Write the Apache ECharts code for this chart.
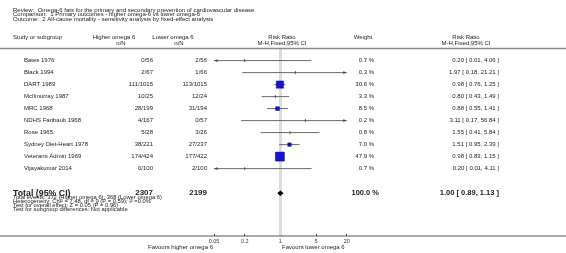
<!DOCTYPE html>
<html>
<head>
<meta charset="utf-8">
<script src="https://cdn.jsdelivr.net/npm/echarts@6/dist/echarts.min.js"></script>
<style>
  html, body { margin: 0; padding: 0; background: #fff; }
  #main { width: 566px; height: 253px; }
</style>
</head>
<body>
<div id="main"></div>
<script>
// study rows
var studies = ['Bates 1976', 'Black 1994', 'DART 1989', 'McIlmurray 1987', 'MRC 1968',
  'NDHS Faribault 1968', 'Rose 1965', 'Sydney Diet-Heart 1978', 'Veterans Admin 1969', 'Vijayakumar 2014'];
var higherEvents = [0, 2, 111, 10, 28, 4, 5, 38, 174, 0];
var higherTotal  = [56, 67, 1015, 25, 199, 167, 28, 221, 424, 100];
var lowerEvents  = [2, 1, 113, 12, 31, 0, 3, 27, 177, 2];
var lowerTotal   = [56, 66, 1015, 24, 194, 57, 26, 237, 422, 100];
var weights = [0.7, 0.3, 30.6, 3.3, 8.5, 0.2, 0.8, 7.0, 47.9, 0.7];
var rr   = [0.20, 1.97, 0.98, 0.80, 0.88, 3.11, 1.55, 1.51, 0.98, 0.20];
var rrLo = [0.01, 0.18, 0.76, 0.43, 0.55, 0.17, 0.41, 0.95, 0.83, 0.01];
var rrHi = [4.06, 21.21, 1.25, 1.49, 1.41, 56.84, 5.84, 2.39, 1.15, 4.11];

// pooled
var totalHigherN = 2307;
var totalLowerN = 2199;
var totalWeight = 100.0;
var totalRR = [1.00, 0.89, 1.13];

var tickValues = [0.05, 0.2, 1, 5, 20];
var axisMin = 0.05, axisMax = 20;

var FONT = '"Liberation Sans", Arial, sans-serif';
var TXT = '#222';

function lg(v) { return Math.log10(v); }
function fmt(v) { return v.toFixed(2); }

var rowY = studies.map(function (s, i) { return i + 1.05; });
var totalY = 12.1;

var studyData = studies.map(function (s, i) {
  return [lg(rr[i]), rowY[i], lg(rrLo[i]), lg(rrHi[i]), weights[i]];
});
var textData = studies.map(function (s, i) { return [0, rowY[i], i]; });

var dom = document.getElementById('main');
var myChart = echarts.init(dom, null, { renderer: 'canvas' });

function t(text, x, y, size, align, bold) {
  return {
    type: 'text', x: x, y: y, silent: true,
    style: {
      text: text, fill: TXT, align: align || 'left', verticalAlign: 'middle',
      font: (bold ? 'bold ' : '') + size + 'px ' + FONT
    }
  };
}

var option = {
  animation: false,
  grid: { left: 214, right: 219.3, top: 48, bottom: 17 },
  xAxis: {
    type: 'value',
    position: 'bottom',
    min: lg(axisMin), max: lg(axisMax),
    axisLine: { show: false, onZero: false },
    splitLine: { show: false },
    axisTick: {
      show: true, inside: true, length: 2,
      customValues: tickValues.map(lg),
      lineStyle: { color: '#444', width: 1 }
    },
    axisLabel: {
      customValues: tickValues.map(lg),
      fontSize: 5.5, color: '#333', margin: 2, fontFamily: FONT,
      formatter: function (v) {
        var best = tickValues[0];
        tickValues.forEach(function (tv) { if (Math.abs(lg(tv) - v) < Math.abs(lg(best) - v)) best = tv; });
        return String(best);
      }
    }
  },
  yAxis: { type: 'value', inverse: true, min: 0, max: 188 / 12, show: false },
  graphic: [
    t('Review:  Omega-6 fats for the primary and secondary prevention of cardiovascular disease', 13, 10, 6),
    t('Comparison:  1 Primary outcomes - higher omega-6 vs lower omega-6', 13, 14.7, 6),
    t('Outcome:  2 All-cause mortality - sensitivity analysis by fixed-effect analysis', 13, 19.3, 6),
    t('Study or subgroup', 13, 37.5, 6),
    t('Higher omega 6', 114, 37.5, 6, 'center'),
    t('n/N', 121, 43.5, 6, 'center'),
    t('Lower omega 6', 173, 37.5, 6, 'center'),
    t('n/N', 179, 43.5, 6, 'center'),
    t('Risk Ratio', 282, 37.5, 6, 'center'),
    t('M-H,Fixed,95% CI', 282, 43.5, 6, 'center'),
    t('Weight', 363, 37.5, 6, 'center'),
    t('Risk Ratio', 466, 37.5, 6, 'center'),
    t('M-H,Fixed,95% CI', 466, 43.5, 6, 'center'),
    t('Total events: 372 (Higher omega 6), 368 (Lower omega 6)', 13, 197.3, 5.8),
    t('Heterogeneity: Chi\u00b2 = 7.48, df = 9 (P = 0.59); I\u00b2 =0.0%', 13, 201.3, 5.8),
    t('Test for overall effect: Z = 0.05 (P = 0.96)', 13, 205.3, 5.8),
    t('Test for subgroup differences: Not applicable', 13, 209.3, 5.8),
    t('Favours higher omega 6', 213, 247, 6, 'right'),
    t('Favours lower omega 6', 282, 247, 6, 'left'),
    {
      type: 'line', silent: true, z: 10,
      shape: { x1: 0, y1: 48.5, x2: 566, y2: 48.5 },
      style: { stroke: '#8a8a8a', lineWidth: 1.5 }
    },
    {
      type: 'line', silent: true, z: 10,
      shape: { x1: 0, y1: 236, x2: 566, y2: 236 },
      style: { stroke: '#555', lineWidth: 1 }
    }
  ],
  series: [
    {
      // line of no effect
      type: 'line', data: [], z: 1,
      markLine: {
        silent: true, symbol: 'none', label: { show: false },
        lineStyle: { color: '#dcdcdc', width: 3, type: 'solid' },
        data: [{ xAxis: 0 }]
      }
    },
    {
      type: 'custom', z: 5, clip: false,
      data: studyData,
      renderItem: function (params, api) {
        var y = api.value(1);
        var x0 = lg(axisMin), x1 = lg(axisMax);
        var lo = api.value(2), hi = api.value(3), w = api.value(4);
        var p = api.coord([api.value(0), y]);
        var pl = api.coord([Math.max(lo, x0), y]);
        var pr = api.coord([Math.min(hi, x1), y]);
        var col = '#444';
        var kids = [{
          type: 'line', shape: { x1: pl[0], y1: p[1], x2: pr[0], y2: p[1] },
          style: { stroke: col, lineWidth: 0.8 }
        }];
        if (lo < x0) {
          kids.push({ type: 'polygon', shape: { points: [[pl[0], p[1]], [pl[0] + 3.5, p[1] - 1.4], [pl[0] + 3.5, p[1] + 1.4]] }, style: { fill: col } });
        }
        if (hi > x1) {
          kids.push({ type: 'polygon', shape: { points: [[pr[0], p[1]], [pr[0] - 3.5, p[1] - 1.4], [pr[0] - 3.5, p[1] + 1.4]] }, style: { fill: col } });
        }
        var side = 1.3 * Math.sqrt(w);
        if (side < 3) {
          kids.push({ type: 'line', shape: { x1: p[0], y1: p[1] - 1.6, x2: p[0], y2: p[1] + 1.6 }, style: { stroke: col, lineWidth: 0.8 } });
        } else {
          kids.push({
            type: 'rect', shape: { x: p[0] - side / 2, y: p[1] - side / 2, width: side, height: side },
            style: { fill: '#1414d2', stroke: '#00008a', lineWidth: 0.5 }
          });
        }
        return { type: 'group', children: kids };
      }
    },
    {
      type: 'custom', z: 5, clip: false,
      data: [[lg(totalRR[0]), totalY, lg(totalRR[1]), lg(totalRR[2])]],
      renderItem: function (params, api) {
        var y = api.value(1);
        var c = api.coord([api.value(0), y]);
        var l = api.coord([api.value(2), y]);
        var r = api.coord([api.value(3), y]);
        return {
          type: 'polygon',
          shape: { points: [[l[0] - 0.5, c[1]], [c[0], c[1] - 2.7], [r[0] + 0.5, c[1]], [c[0], c[1] + 2.7]] },
          style: { fill: '#000' }
        };
      }
    },
    {
      type: 'custom', z: 6, clip: false, silent: true,
      data: textData,
      renderItem: function (params, api) {
        var i = api.value(2);
        var yy = api.coord([0, api.value(1)])[1];
        return {
          type: 'group',
          children: [
            t(studies[i], 24, yy, 6),
            t(higherEvents[i] + '/' + higherTotal[i], 153, yy, 6, 'right'),
            t(lowerEvents[i] + '/' + lowerTotal[i], 207, yy, 6, 'right'),
            t(weights[i].toFixed(1) + ' %', 374, yy, 6, 'right'),
            t(fmt(rr[i]) + ' [ ' + fmt(rrLo[i]) + ', ' + fmt(rrHi[i]) + ' ]', 499, yy, 6, 'right')
          ]
        };
      }
    },
    {
      type: 'custom', z: 6, clip: false, silent: true,
      data: [[0, totalY]],
      renderItem: function (params, api) {
        var yy = api.coord([0, api.value(1)])[1];
        return {
          type: 'group',
          children: [
            t('Total (95% CI)', 13, yy, 8.8, 'left', true),
            t(String(totalHigherN), 153, yy, 8, 'right', true),
            t(String(totalLowerN), 207, yy, 8, 'right', true),
            t(totalWeight.toFixed(1) + ' %', 379, yy, 7.5, 'right', true),
            t(fmt(totalRR[0]) + ' [ ' + fmt(totalRR[1]) + ', ' + fmt(totalRR[2]) + ' ]', 499, yy, 7.5, 'right', true)
          ]
        };
      }
    }
  ]
};

if (option && typeof option === 'object') {
  myChart.setOption(option, true);
}
</script>
</body>
</html>
